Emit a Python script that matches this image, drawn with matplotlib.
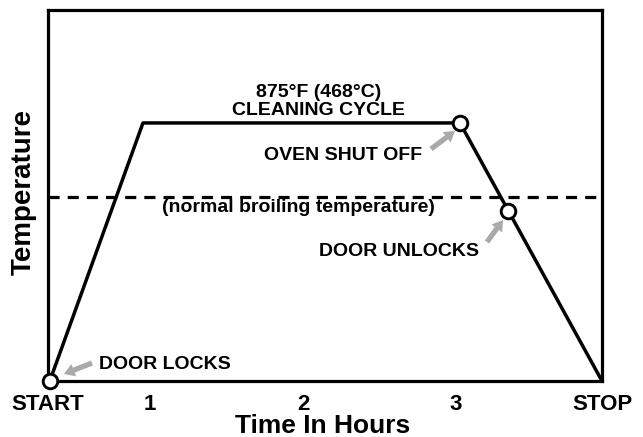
import matplotlib
matplotlib.use("Agg")
import matplotlib.pyplot as plt

plt.rcParams['font.family'] = ['Liberation Sans', 'DejaVu Sans']
plt.rcParams['font.weight'] = 'bold'
plt.rcParams['lines.scale_dashes'] = False

# ---- data ----
cycle_hours = [0.345, 0.954, 3.026, 3.954]
cycle_temps = [0, 875, 875, 0]
event_hours = [0.345, 3.026, 3.34]
event_temps = [0, 875, 575]
broil_temp = 624
tick_pos = [0.33, 1, 2, 3, 3.954]
tick_labels = ["START", "1", "2", "3", "STOP"]
x_limits = (0.33, 3.954)
y_limits = (0, 1258)

W, H = 643, 437
fig = plt.figure(figsize=(W / 100, H / 100), dpi=100)

def px(x, y):
    return (x / W, 1 - y / H)

ax = fig.add_axes([47.5 / W, (H - 381) / H, (602 - 47.5) / W, (381 - 10) / H])
ax.set_xlim(*x_limits)
ax.set_ylim(*y_limits)
for s in ax.spines.values():
    s.set_linewidth(2.3)
    s.set_color('black')

ax.plot(cycle_hours, cycle_temps, color='black', lw=2.5,
        solid_joinstyle='round', solid_capstyle='round', clip_on=False, zorder=3)
ax.axhline(broil_temp, color='black', lw=2.3, dashes=(8, 5.8), zorder=2)
ax.plot(event_hours, event_temps, 'o', ms=10.5, mfc='white', mec='black',
        mew=2.1, clip_on=False, zorder=4)

ax.set_xticks(tick_pos)
ax.set_xticklabels(tick_labels, fontsize=16, fontweight='bold')
ax.tick_params(axis='x', length=0, pad=9.5)
ax.set_yticks([])

# texts
fs = 14
fig.text(*px(319, 97), "875°F (468°C)", fontsize=fs, fontweight='bold',
         ha='center', va='baseline')
fig.text(*px(318, 115), "CLEANING CYCLE", fontsize=fs, fontweight='bold',
         ha='center', va='baseline')
fig.text(*px(343.5, 160), "OVEN SHUT OFF", fontsize=fs, fontweight='bold',
         ha='center', va='baseline')
fig.text(*px(298, 212), "(normal broiling temperature)", fontsize=fs,
         fontweight='bold', ha='center', va='baseline')
fig.text(*px(399, 256), "DOOR UNLOCKS", fontsize=fs, fontweight='bold',
         ha='center', va='baseline')
fig.text(*px(164.5, 369), "DOOR LOCKS", fontsize=fs, fontweight='bold',
         ha='center', va='baseline')
fig.text(*px(323, 433), "Time In Hours", fontsize=19, fontweight='bold',
         ha='center', va='baseline')
fig.text(*px(24, 192), "Temperature", fontsize=20, fontweight='bold',
         ha='center', va='center', rotation=90)

# arrows
arrow_style = 'simple,head_length=0.75,head_width=0.95,tail_width=0.38'
for tail, tip in [((92, 363), (64, 374)),
                  ((431, 149), (455, 131)),
                  ((487, 242), (503, 220))]:
    fig.patches.append(matplotlib.patches.FancyArrowPatch(
        px(*tail), px(*tip), transform=fig.transFigure,
        arrowstyle=arrow_style, mutation_scale=10, color='#aaaaaa',
        shrinkA=0, shrinkB=0, lw=0))

fig.savefig("out.png", dpi=100)
